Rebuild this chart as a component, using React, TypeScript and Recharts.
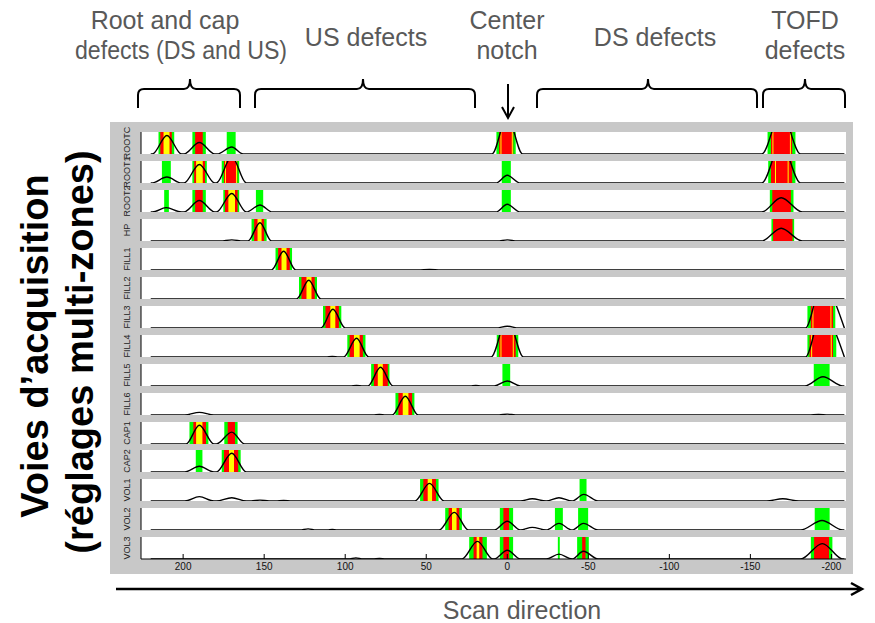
import React from 'react';
import { ComposedChart, Line, XAxis, YAxis, ReferenceArea, CartesianGrid } from 'recharts';

type Pt = [number, number];
type Gate = [number, number, 'g' | 'r' | 'y'];

const xTicks = [200, 150, 100, 50, 0, -50, -100, -150, -200];
const ampTicks = [0, 0.5, 1];

const channelNames = ['ROOTC', 'ROOT1', 'ROOT2', 'HP', 'FILL1', 'FILL2', 'FILL3', 'FILL4', 'FILL5', 'FILL6', 'CAP1', 'CAP2', 'VOL1', 'VOL2', 'VOL3'];

// signal amplitude per channel: [scan position, amplitude]
const rootcSignal: Pt[] = [[220, 0], [219, 0], [210, 0.84], [201, 0], [199.5, 0], [190, 0.52], [180.5, 0], [179, 0], [170, 0.32], [163, 0], [9.5, 0], [0, 1.7], [-9.5, 0], [-157, 0], [-169, 1.9], [-181, 0], [-208, 0]];
const root1Signal: Pt[] = [[220, 0], [219.5, 0], [210, 0.27], [201, 0], [199.5, 0], [190, 0.84], [180.5, 0], [179.5, 0], [170, 1.2], [161, 0], [7, 0], [0, 0.35], [-8, 0], [-157, 0], [-169, 1.8], [-181, 0], [-208, 0]];
const root2Signal: Pt[] = [[220, 0], [219, 0], [210.5, 0.2], [201, 0], [199.5, 0], [190, 0.52], [180.5, 0], [179.5, 0], [170, 0.84], [161, 0], [152.6, 0.32], [145, 0], [7, 0], [0, 0.35], [-8, 0], [-157, 0], [-169, 0.65], [-182, 0], [-208, 0]];
const hpSignal: Pt[] = [[220, 0], [177, 0], [170, 0.05], [163, 0], [160, 0], [152.6, 0.83], [145.5, 0], [6, 0], [0, 0.05], [-6, 0], [-157, 0], [-169, 0.58], [-182, 0], [-208, 0]];
const fill1Signal: Pt[] = [[220, 0], [145.5, 0], [138, 0.85], [130.5, 0], [55, 0], [48, 0.03], [41, 0], [-208, 0]];
const fill2Signal: Pt[] = [[220, 0], [130, 0], [122.5, 0.85], [115, 0], [-208, 0]];
const fill3Signal: Pt[] = [[220, 0], [115, 0], [107.6, 0.85], [100, 0], [7, 0], [0, 0.08], [-7, 0], [-184, 0], [-194, 2], [-208, 0]];
const fill4Signal: Pt[] = [[220, 0], [112, 0], [108, 0.03], [104, 0], [101, 0], [93, 0.85], [85.5, 0], [10, 0], [0, 1.8], [-10, 0], [-184, 0], [-194, 2], [-208, 0]];
const fill5Signal: Pt[] = [[220, 0], [97, 0], [93, 0.02], [89, 0], [86, 0], [78.2, 0.85], [70.5, 0], [23, 0], [19.4, 0.02], [16, 0], [8, 0], [0, 0.23], [-8, 0], [-183.6, 0], [-194.8, 0.42], [-207, 0], [-208, 0]];
const fill6Signal: Pt[] = [[220, 0], [199, 0], [190, 0.12], [181, 0], [83, 0], [78.9, 0.03], [75, 0], [71, 0], [62.9, 0.85], [55, 0], [5, 0], [0, 0.04], [-5, 0], [-186, 0], [-192, 0.03], [-198, 0], [-208, 0]];
const cap1Signal: Pt[] = [[220, 0], [198.2, 0], [190, 0.85], [181, 0], [179.5, 0], [170, 0.54], [162, 0], [-208, 0]];
const cap2Signal: Pt[] = [[220, 0], [199, 0], [190, 0.26], [181, 0], [179.5, 0], [170, 0.85], [161, 0], [-208, 0]];
const vol1Signal: Pt[] = [[220, 0], [199, 0], [190, 0.2], [181, 0], [179.5, 0], [170, 0.15], [161, 0], [158, 0], [152.6, 0.04], [147, 0], [143, 0], [138, 0.03], [133, 0], [57, 0], [48, 0.8], [39, 0], [-8, 0], [-15.4, 0.1], [-24, 0], [-31.9, 0.15], [-40, 0], [-47.2, 0.3], [-56, 0], [-160, 0], [-170, 0.1], [-180, 0], [-208, 0]];
const vol2Signal: Pt[] = [[220, 0], [128, 0], [122.9, 0.05], [118, 0], [111, 0], [108, 0.02], [105, 0], [42, 0], [32.7, 0.8], [24, 0], [8, 0], [0, 0.4], [-8, 0], [-15.4, 0.12], [-24, 0], [-31.9, 0.3], [-40, 0], [-47, 0.3], [-56, 0], [-181, 0], [-194.2, 0.43], [-207, 0], [-208, 0]];
const vol3Signal: Pt[] = [[220, 0], [98, 0], [93.4, 0.05], [89, 0], [83, 0], [78.9, 0.03], [75, 0], [28, 0], [18.4, 0.8], [9, 0], [8, 0], [0, 0.4], [-8, 0], [-24, 0], [-31.9, 0.22], [-40, 0], [-47, 0.35], [-56, 0], [-181, 0], [-194.4, 0.7], [-207, 0], [-208, 0]];

// gates per channel: [from, to, level] g = detection, r = alarm, y = peak
const rootcGates: Gate[] = [[215.2, 205.5, 'g'], [214.1, 207, 'r'], [212.1, 208.4, 'y'], [194.3, 186, 'g'], [192.6, 187.9, 'r'], [173.1, 167.6, 'g'], [6.7, -5.2, 'g'], [5, -3.7, 'r'], [4.2, 3.6, 'y'], [-2.8, -3.4, 'y'], [-160.6, -177.8, 'g'], [-162.7, -175.8, 'r'], [-163.6, -164.2, 'y'], [-174.4, -175, 'y']];
const root1Gates: Gate[] = [[213.1, 207.6, 'g'], [194.3, 185.4, 'g'], [193.2, 186.5, 'r'], [192, 187.9, 'y'], [176.2, 165.4, 'g'], [174.8, 166.6, 'r'], [174.2, 173.6, 'y'], [167.4, 166.8, 'y'], [3.4, -2.2, 'g'], [-161, -177.8, 'g'], [-162.7, -175.8, 'r'], [-165.2, -165.8, 'y'], [-173, -173.6, 'y']];
const root2Gates: Gate[] = [[211.7, 208.8, 'g'], [194.3, 186, 'g'], [192.6, 187.9, 'r'], [175.2, 165.4, 'g'], [174.2, 166.4, 'r'], [172.1, 168, 'y'], [155.1, 150.6, 'g'], [3.4, -2.2, 'g'], [-162, -176.6, 'g'], [-163.5, -175, 'r']];
const hpGates: Gate[] = [[157.8, 148.5, 'g'], [156.2, 150, 'r'], [154.1, 151.6, 'y'], [-163, -177, 'g'], [-164, -176, 'r']];
const fill1Gates: Gate[] = [[143, 132.8, 'g'], [141.4, 134.2, 'r'], [139.3, 136.2, 'y']];
const fill2Gates: Gate[] = [[128.5, 117.4, 'g'], [127, 118.8, 'r'], [123.9, 120.8, 'y']];
const fill3Gates: Gate[] = [[113.7, 102.4, 'g'], [112.2, 103.9, 'r'], [109.2, 106.1, 'y'], [-185.2, -202.4, 'g'], [-187.3, -201, 'r'], [-188.3, -188.9, 'y'], [-199.4, -200, 'y']];
const fill4Gates: Gate[] = [[98.7, 87.5, 'g'], [97.3, 89.1, 'r'], [94.6, 91.1, 'y'], [6.5, -6.8, 'g'], [5, -5.2, 'r'], [4.2, 3.6, 'y'], [-3.4, -4, 'y'], [-185.2, -203, 'g'], [-186.5, -201, 'r'], [-187.5, -188.1, 'y'], [-199.6, -200.2, 'y']];
const fill5Gates: Gate[] = [[84, 72.7, 'g'], [82.3, 73.7, 'r'], [79.9, 76.8, 'y'], [3, -1.8, 'g'], [-189.1, -198.9, 'g']];
const fill6Gates: Gate[] = [[69, 57.3, 'g'], [67.2, 58.7, 'r'], [64.5, 61, 'y']];
const cap1Gates: Gate[] = [[196.1, 184.4, 'g'], [193.7, 185.9, 'r'], [192, 188.1, 'y'], [174.6, 166.4, 'g'], [172.5, 168, 'r']];
const cap2Gates: Gate[] = [[192.2, 188.1, 'g'], [176.2, 164.5, 'g'], [174.8, 166, 'r'], [171.7, 168.6, 'y']];
const vol1Gates: Gate[] = [[53.8, 42.4, 'g'], [51.8, 44, 'r'], [49.1, 46.4, 'y'], [-44.6, -48.9, 'g']];
const vol2Gates: Gate[] = [[38.3, 28, 'g'], [36.2, 29.6, 'r'], [34.1, 31.3, 'y'], [4.6, -3.6, 'g'], [2.4, -1.1, 'r'], [-29.4, -34.3, 'g'], [-43.7, -49.9, 'g'], [-189.7, -198.9, 'g']];
const vol3Gates: Gate[] = [[23.5, 12.6, 'g'], [20.8, 15.3, 'r'], [18.9, 17.3, 'y'], [4.6, -3.6, 'g'], [2.4, -1.1, 'r'], [-31.2, -32.4, 'g'], [-43.1, -50.3, 'g'], [-46.2, -48.3, 'r'], [-187.3, -200.6, 'g'], [-189.3, -198.5, 'r']];

const signals = [rootcSignal, root1Signal, root2Signal, hpSignal, fill1Signal, fill2Signal, fill3Signal, fill4Signal, fill5Signal, fill6Signal, cap1Signal, cap2Signal, vol1Signal, vol2Signal, vol3Signal];
const gates = [rootcGates, root1Gates, root2Gates, hpGates, fill1Gates, fill2Gates, fill3Gates, fill4Gates, fill5Gates, fill6Gates, cap1Gates, cap2Gates, vol1Gates, vol2Gates, vol3Gates];

const gateColor = { g: '#00ff00', r: '#ff0000', y: '#ffff00' };
const FONT = '"Liberation Sans", Arial, sans-serif';
const GREY = '#595959';

const ROW_H = 22;
const PITCH = 28.95;
const rowTop = (i: number) => Math.round(132 + i * PITCH);

const ChannelRow = ({ idx }: { idx: number }) => {
  const last = idx === channelNames.length - 1;
  const data = signals[idx].map(([x, a]) => ({ x, a }));
  return (
    <ComposedChart width={743} height={last ? ROW_H + 16 : ROW_H} data={data}
      margin={{ top: 0, right: 7, bottom: 0, left: 0 }}>
      <CartesianGrid fill="#fff" stroke="none" />
      {gates[idx].map(([x1, x2, lvl], i) => (
        <ReferenceArea key={i} x1={x1} x2={x2} fill={gateColor[lvl]} fillOpacity={1} stroke="none" ifOverflow="hidden" />
      ))}
      <Line type="monotone" dataKey="a" stroke="#000" strokeWidth={1.4} dot={false} isAnimationActive={false} />
      <XAxis type="number" dataKey="x" domain={[-209, 226]} reversed ticks={xTicks} height={last ? 16 : 0}
        stroke="#000" tickSize={-5} tickMargin={9}
        tick={last ? { fontSize: 10, fill: '#111', fontFamily: FONT } : false} />
      <YAxis type="number" domain={[0, 1]} allowDataOverflow ticks={ampTicks} width={31}
        stroke="#000" tickSize={-5} tick={false} />
    </ComposedChart>
  );
};

const brace = (x1: number, xm: number, x2: number) =>
  `M${x1} 108 L${x1} 95 Q${x1} 89 ${x1 + 6} 89 L${xm - 6} 89 Q${xm} 89 ${xm} 79 Q${xm} 89 ${xm + 6} 89 L${x2 - 6} 89 Q${x2} 89 ${x2} 95 L${x2} 108`;

export default function App() {
  return (
    <div style={{ position: 'absolute', left: 0, top: 0, width: 875, height: 623, background: '#fff', fontFamily: FONT }}>
      <div style={{ position: 'absolute', left: 110, top: 122, width: 743, height: 452, background: '#c8c8c8' }} />
      {channelNames.map((n, i) => (
        <div key={n} style={{ position: 'absolute', left: 110, top: rowTop(i) }}>
          <ChannelRow idx={i} />
        </div>
      ))}
      <svg width={875} height={623} style={{ position: 'absolute', left: 0, top: 0, pointerEvents: 'none' }}>
        <g fontFamily={FONT} fontSize={9} fill="#222" textAnchor="middle" dominantBaseline="central">
          {channelNames.map((n, i) => (
            <text key={n} transform={`translate(127,${rowTop(i) + 11}) rotate(-90)`}>{n}</text>
          ))}
        </g>
        <g fontFamily={FONT} fontSize={25} fill={GREY} textAnchor="middle">
          <text x={165} y={29}>Root and cap</text>
          <text x={181} y={59} textLength={212} lengthAdjust="spacingAndGlyphs">defects (DS and US)</text>
          <text x={366} y={46}>US defects</text>
          <text x={507} y={29}>Center</text>
          <text x={507} y={59}>notch</text>
          <text x={655} y={46}>DS defects</text>
          <text x={805} y={29}>TOFD</text>
          <text x={805} y={59}>defects</text>
          <text x={522} y={619}>Scan direction</text>
        </g>
        <g stroke="#000" strokeWidth={2} fill="none">
          <path d={brace(138, 190, 240)} />
          <path d={brace(255, 363, 475)} />
          <path d={brace(537, 648, 757)} />
          <path d={brace(763, 805, 845)} />
          <path d="M508 84 L508 117 M502 107 L508 118 L514 107" />
          <path d="M116 589 L861 589 M851 583 L862 589 L851 595" strokeWidth={2.5} />
        </g>
        <g fontFamily={FONT} fontWeight="bold" fontSize={38} fill="#000" textAnchor="middle" dominantBaseline="central">
          <text transform="translate(35,346) rotate(-90)">Voies d’acquisition</text>
          <text transform="translate(80,352) rotate(-90)">(réglages multi-zones)</text>
        </g>
      </svg>
    </div>
  );
}
